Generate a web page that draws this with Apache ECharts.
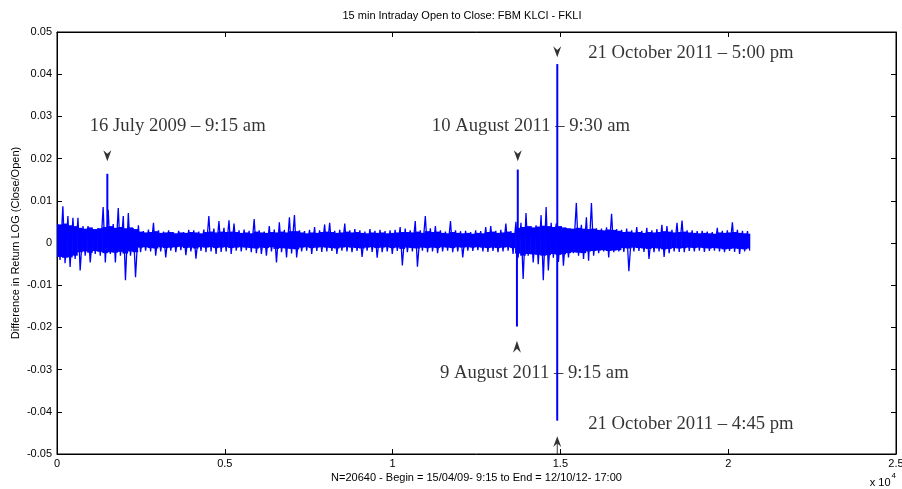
<!DOCTYPE html>
<html>
<head>
<meta charset="utf-8">
<script src="https://cdn.jsdelivr.net/npm/echarts@6/dist/echarts.min.js"></script>
<style>
html,body{margin:0;padding:0;background:#fff;}
#chart{width:902px;height:489px;}
</style>
</head>
<body>
<div id="chart"></div>
<script>
// ---- DATA ----
const title = '15 min Intraday Open to Close: FBM KLCI - FKLI';
const xName = 'N=20640 - Begin = 15/04/09- 9:15 to End = 12/10/12- 17:00';
const yName = 'Difference in Return LOG (Close/Open)';
const nObs = 20640;
const binSize = 150; // each bin summarises ~150 consecutive observations
// highest value reached inside each bin
const binHigh = [
 0.0045,0.0087,0.0064,0.0060,0.0060,0.0040,0.0040,0.0032,0.0035,0.0085,
 0.0079,0.0045,0.0083,0.0064,0.0071,0.0035,0.0042,0.0028,0.0032,0.0048,
 0.0030,0.0027,0.0030,0.0025,0.0029,0.0026,0.0031,0.0030,0.0027,0.0032,
 0.0064,0.0034,0.0052,0.0036,0.0054,0.0046,0.0030,0.0032,0.0029,0.0057,
 0.0030,0.0027,0.0040,0.0032,0.0049,0.0031,0.0061,0.0066,0.0030,0.0028,
 0.0031,0.0038,0.0030,0.0044,0.0048,0.0029,0.0031,0.0046,0.0030,0.0033,
 0.0030,0.0027,0.0033,0.0029,0.0031,0.0028,0.0030,0.0031,0.0038,0.0034,
 0.0030,0.0052,0.0030,0.0064,0.0035,0.0040,0.0030,0.0027,0.0052,0.0030,
 0.0028,0.0029,0.0026,0.0030,0.0028,0.0038,0.0040,0.0029,0.0031,0.0046,
 0.0028,0.0050,0.0048,0.0071,0.0040,0.0042,0.0066,0.0085,0.0048,0.0046,
 0.0040,0.0036,0.0032,0.0095,0.0043,0.0061,0.0095,0.0035,0.0034,0.0037,
 0.0069,0.0033,0.0031,0.0034,0.0030,0.0038,0.0029,0.0036,0.0030,0.0033,
 0.0043,0.0040,0.0031,0.0048,0.0053,0.0030,0.0030,0.0028,0.0029,0.0027,
 0.0026,0.0036,0.0029,0.0030,0.0049,0.0031,0.0029,0.0028
];
// lowest value reached inside each bin
const binLow = [
 -0.0040,-0.0048,-0.0057,-0.0038,-0.0065,-0.0030,-0.0046,-0.0026,-0.0030,-0.0046,
 -0.0026,-0.0046,-0.0030,-0.0088,-0.0030,-0.0081,-0.0022,-0.0018,-0.0020,-0.0030,
 -0.0020,-0.0034,-0.0018,-0.0022,-0.0017,-0.0029,-0.0020,-0.0037,-0.0019,-0.0022,
 -0.0020,-0.0026,-0.0021,-0.0020,-0.0026,-0.0018,-0.0020,-0.0017,-0.0022,-0.0024,
 -0.0026,-0.0030,-0.0020,-0.0046,-0.0022,-0.0034,-0.0025,-0.0034,-0.0020,-0.0018,
 -0.0026,-0.0019,-0.0021,-0.0020,-0.0019,-0.0026,-0.0018,-0.0020,-0.0022,-0.0019,
 -0.0033,-0.0018,-0.0021,-0.0035,-0.0022,-0.0020,-0.0026,-0.0019,-0.0053,-0.0022,
 -0.0020,-0.0056,-0.0018,-0.0022,-0.0020,-0.0024,-0.0020,-0.0018,-0.0022,-0.0020,
 -0.0034,-0.0018,-0.0019,-0.0017,-0.0020,-0.0021,-0.0019,-0.0022,-0.0020,-0.0018,
 -0.0026,-0.0035,-0.0085,-0.0030,-0.0046,-0.0050,-0.0088,-0.0065,-0.0035,-0.0045,
 -0.0054,-0.0034,-0.0024,-0.0030,-0.0038,-0.0042,-0.0030,-0.0024,-0.0020,-0.0034,
 -0.0022,-0.0020,-0.0021,-0.0067,-0.0020,-0.0019,-0.0021,-0.0038,-0.0022,-0.0020,
 -0.0033,-0.0024,-0.0020,-0.0021,-0.0022,-0.0019,-0.0020,-0.0018,-0.0021,-0.0019,
 -0.0018,-0.0020,-0.0022,-0.0019,-0.0021,-0.0026,-0.0020,-0.0018
];
// range covered by most observations of each bin (the solid part of the trace)
const coreHigh = [
 0.0044,0.0046,0.0042,0.0040,
 0.0036,0.0034,0.0037,0.0033,0.0035,0.0038,0.0040,0.0036,0.0038,0.0035,0.0037,0.0033,
 0.0027,0.0025,0.0026,0.0028,0.0024,0.0025,0.0026,0.0023,0.0025,0.0024,0.0026,0.0025,0.0023,0.0026,0.0027,0.0025,0.0027,0.0026,
 0.0027,0.0026,0.0024,0.0025,0.0023,0.0027,0.0025,0.0024,0.0026,0.0025,0.0027,0.0025,0.0028,0.0028,0.0025,0.0023,0.0025,0.0024,0.0026,0.0027,0.0026,0.0024,0.0025,0.0027,0.0025,0.0026,0.0024,0.0023,0.0025,0.0024,0.0025,0.0023,0.0024,0.0025,0.0026,
 0.0026,0.0025,0.0027,0.0024,0.0028,0.0026,0.0027,0.0024,0.0023,0.0026,0.0024,0.0023,0.0024,0.0022,0.0024,0.0023,0.0026,0.0027,0.0024,0.0025,0.0027,0.0024,
 0.0036,0.0038,0.0040,0.0037,0.0039,0.0041,0.0040,0.0038,0.0040,0.0037,0.0035,0.0034,0.0036,0.0034,
 0.0033,0.0034,0.0031,0.0030,0.0032,0.0031,0.0029,
 0.0026,0.0027,0.0025,0.0026,0.0024,0.0026,0.0025,0.0026,0.0028,0.0027,0.0025,0.0026,0.0027,0.0025,0.0024,0.0023,0.0024,0.0023,0.0022,0.0025,0.0024,0.0025,0.0026,0.0024,0.0023,0.0022
];
const coreLow = [
 -0.0033,-0.0035,-0.0034,-0.0030,
 -0.0022,-0.0020,-0.0023,-0.0019,-0.0021,-0.0024,-0.0022,-0.0023,-0.0021,-0.0025,-0.0020,-0.0022,
 -0.0011,-0.0010,-0.0012,-0.0013,-0.0010,-0.0012,-0.0011,-0.0010,-0.0009,-0.0012,-0.0011,-0.0013,-0.0010,-0.0011,-0.0010,-0.0012,-0.0011,-0.0010,
 -0.0012,-0.0011,-0.0010,-0.0011,-0.0012,-0.0013,-0.0011,-0.0012,-0.0010,-0.0014,-0.0012,-0.0013,-0.0014,-0.0015,-0.0011,-0.0010,-0.0012,-0.0011,-0.0010,-0.0011,-0.0012,-0.0013,-0.0011,-0.0010,-0.0011,-0.0012,-0.0013,-0.0011,-0.0010,-0.0012,-0.0011,-0.0010,-0.0012,-0.0011,-0.0014,
 -0.0011,-0.0012,-0.0013,-0.0011,-0.0012,-0.0011,-0.0012,-0.0010,-0.0011,-0.0012,-0.0010,-0.0011,-0.0010,-0.0011,-0.0010,-0.0011,-0.0012,-0.0011,-0.0012,-0.0011,-0.0010,-0.0012,
 -0.0025,-0.0030,-0.0026,-0.0027,-0.0028,-0.0030,-0.0029,-0.0026,-0.0028,-0.0027,-0.0024,-0.0022,-0.0023,-0.0024,
 -0.0020,-0.0019,-0.0018,-0.0017,-0.0019,-0.0018,-0.0017,
 -0.0012,-0.0013,-0.0011,-0.0012,-0.0013,-0.0014,-0.0012,-0.0013,-0.0015,-0.0014,-0.0012,-0.0013,-0.0012,-0.0011,-0.0012,-0.0011,-0.0012,-0.0013,-0.0012,-0.0013,-0.0015,-0.0014,-0.0013,-0.0014,-0.0015,-0.0013
];
// the five isolated extreme observations (observation index, value)
const eventIndex = [1500, 13705, 13730, 14905, 14907];
const eventValue = [0.0164, -0.0198, 0.0174, -0.0421, 0.0424];
// annotations
const noteTexts = ['16 July 2009 \u2013 9:15 am','10 August 2011 \u2013 9:30 am','21 October 2011 \u2013 5:00 pm','9 August 2011 \u2013 9:15 am','21 October 2011 \u2013 4:45 pm'];
const noteX = [975, 11170, 15830, 11410, 15830];
const noteY = [0.0278, 0.0278, 0.0451, -0.0308, -0.0428];
const arrowX = [1500, 13730, 14906, 13705, 14906];
const arrowY = [0.0207, 0.0207, 0.0453, -0.0246, -0.0479];
const arrowDir = ['down','down','down','up','upStem'];
const xTicks = [0, 5000, 10000, 15000, 20000, 25000];

// ---- build series ----
const lineData = [];
const coreData = [];
for (let i = 0; i < binHigh.length; i++) {
  lineData.push([i * binSize + 25, binHigh[i]]);
  lineData.push([Math.min(i * binSize + 90, nObs), binLow[i]]);
  coreData.push([i * binSize, Math.min((i + 1) * binSize, nObs), coreLow[i], coreHigh[i]]);
}
const eventData = eventIndex.map((x, i) => [x, eventValue[i]]);
const arrowPaths = {
  down: 'path://M0,0 L5,12 L10,0 L5,4 Z',
  up: 'path://M5,0 L10,12 L5,8 L0,12 Z',
  upStem: 'path://M5,0 L10,12 L5.6,8.5 L5.6,20 L4.4,20 L4.4,8.5 L0,12 Z'
};
const arrowSizes = { down: [8, 11], up: [8, 12], upStem: [8, 18] };
const arrowData = arrowX.map((x, i) => ({
  value: [x, arrowY[i]],
  symbol: arrowPaths[arrowDir[i]],
  symbolSize: arrowSizes[arrowDir[i]]
}));
const noteData = noteX.map((x, i) => ({ value: [x, noteY[i]], name: noteTexts[i] }));

const sans = 'Liberation Sans, Arial, Helvetica, sans-serif';
const serif = 'Liberation Serif, Times New Roman, serif';
const chart = echarts.init(document.getElementById('chart'), null, { renderer: 'canvas' });
const yFmt = v => { const r = Math.round(v * 100) / 100; return r === 0 ? '0' : String(r); };
const axisCommon = {
  type: 'value',
  axisLine: { show: true, onZero: false, lineStyle: { color: '#000', width: 1 } },
  axisTick: { show: true, inside: true, length: 5, lineStyle: { color: '#000' } },
  splitLine: { show: false }
};
chart.setOption({
  animation: false,
  backgroundColor: '#fff',
  title: {
    text: title, left: 462, top: 10, textAlign: 'center', padding: 0,
    textStyle: { fontFamily: sans, fontSize: 11, fontWeight: 'normal', color: '#000' }
  },
  grid: { left: 57, right: 6, top: 32, bottom: 35, containLabel: false, outerBoundsMode: 'none',
          show: true, borderColor: '#000', borderWidth: 1, backgroundColor: '#fff' },
  xAxis: [
    Object.assign({}, axisCommon, {
      min: xTicks[0], max: xTicks[xTicks.length - 1], interval: xTicks[1] - xTicks[0], position: 'bottom',
      name: xName, nameLocation: 'middle', nameGap: 18, nameMoveOverlap: false,
      nameTextStyle: { fontFamily: sans, fontSize: 11, color: '#000' },
      axisLabel: { fontFamily: sans, fontSize: 11, color: '#000', margin: 4, formatter: v => String(v / 10000) }
    }),
    Object.assign({}, axisCommon, {
      min: xTicks[0], max: xTicks[xTicks.length - 1], interval: xTicks[1] - xTicks[0], position: 'top',
      axisLabel: { show: false }
    })
  ],
  yAxis: [
    Object.assign({}, axisCommon, {
      min: -0.05, max: 0.05, interval: 0.01, position: 'left',
      name: yName, nameLocation: 'middle', nameGap: 36, nameRotate: 90, nameMoveOverlap: false,
      nameTextStyle: { fontFamily: sans, fontSize: 11, color: '#000' },
      axisLabel: { fontFamily: sans, fontSize: 11, color: '#000', margin: 5, formatter: yFmt }
    }),
    Object.assign({}, axisCommon, {
      min: -0.05, max: 0.05, interval: 0.01, position: 'right',
      axisLabel: { show: false }
    })
  ],
  series: [
    {
      type: 'custom', data: coreData, xAxisIndex: 0, yAxisIndex: 0, silent: true, z: 2,
      encode: { x: [0, 1], y: [2, 3] },
      renderItem: (params, api) => {
        const a = api.coord([api.value(0), api.value(3)]);
        const b = api.coord([api.value(1), api.value(2)]);
        return { type: 'rect', shape: { x: a[0], y: a[1], width: b[0] - a[0] + 0.6, height: b[1] - a[1] },
                 style: { fill: '#0000ff' } };
      }
    },
    {
      type: 'line', data: lineData, xAxisIndex: 0, yAxisIndex: 0,
      showSymbol: false, symbol: 'none', sampling: null, silent: true,
      lineStyle: { color: '#0000ff', width: 1.3 }, z: 3
    },
    {
      type: 'bar', data: eventData, xAxisIndex: 0, yAxisIndex: 0, silent: true,
      barWidth: 2, itemStyle: { color: '#0000ff' }, z: 3
    },
    {
      type: 'scatter', data: arrowData, xAxisIndex: 0, yAxisIndex: 0, silent: true,
      itemStyle: { color: '#000' }, z: 4
    },
    {
      type: 'scatter', data: noteData, xAxisIndex: 0, yAxisIndex: 0, silent: true,
      symbolSize: 0, z: 2,
      label: {
        show: true, position: 'right', distance: 0, formatter: p => p.name,
        fontFamily: serif, fontSize: 18.7, color: '#000'
      }
    }
  ],
  graphic: [{
    type: 'text', right: 6, bottom: 1,
    style: {
      text: '{a|x 10}{b|4}',
      rich: {
        a: { fontFamily: sans, fontSize: 11, fill: '#000', verticalAlign: 'bottom' },
        b: { fontFamily: sans, fontSize: 8, fill: '#000', verticalAlign: 'bottom', padding: [0, 0, 8, 1] }
      }
    }
  }]
});
</script>
</body>
</html>
